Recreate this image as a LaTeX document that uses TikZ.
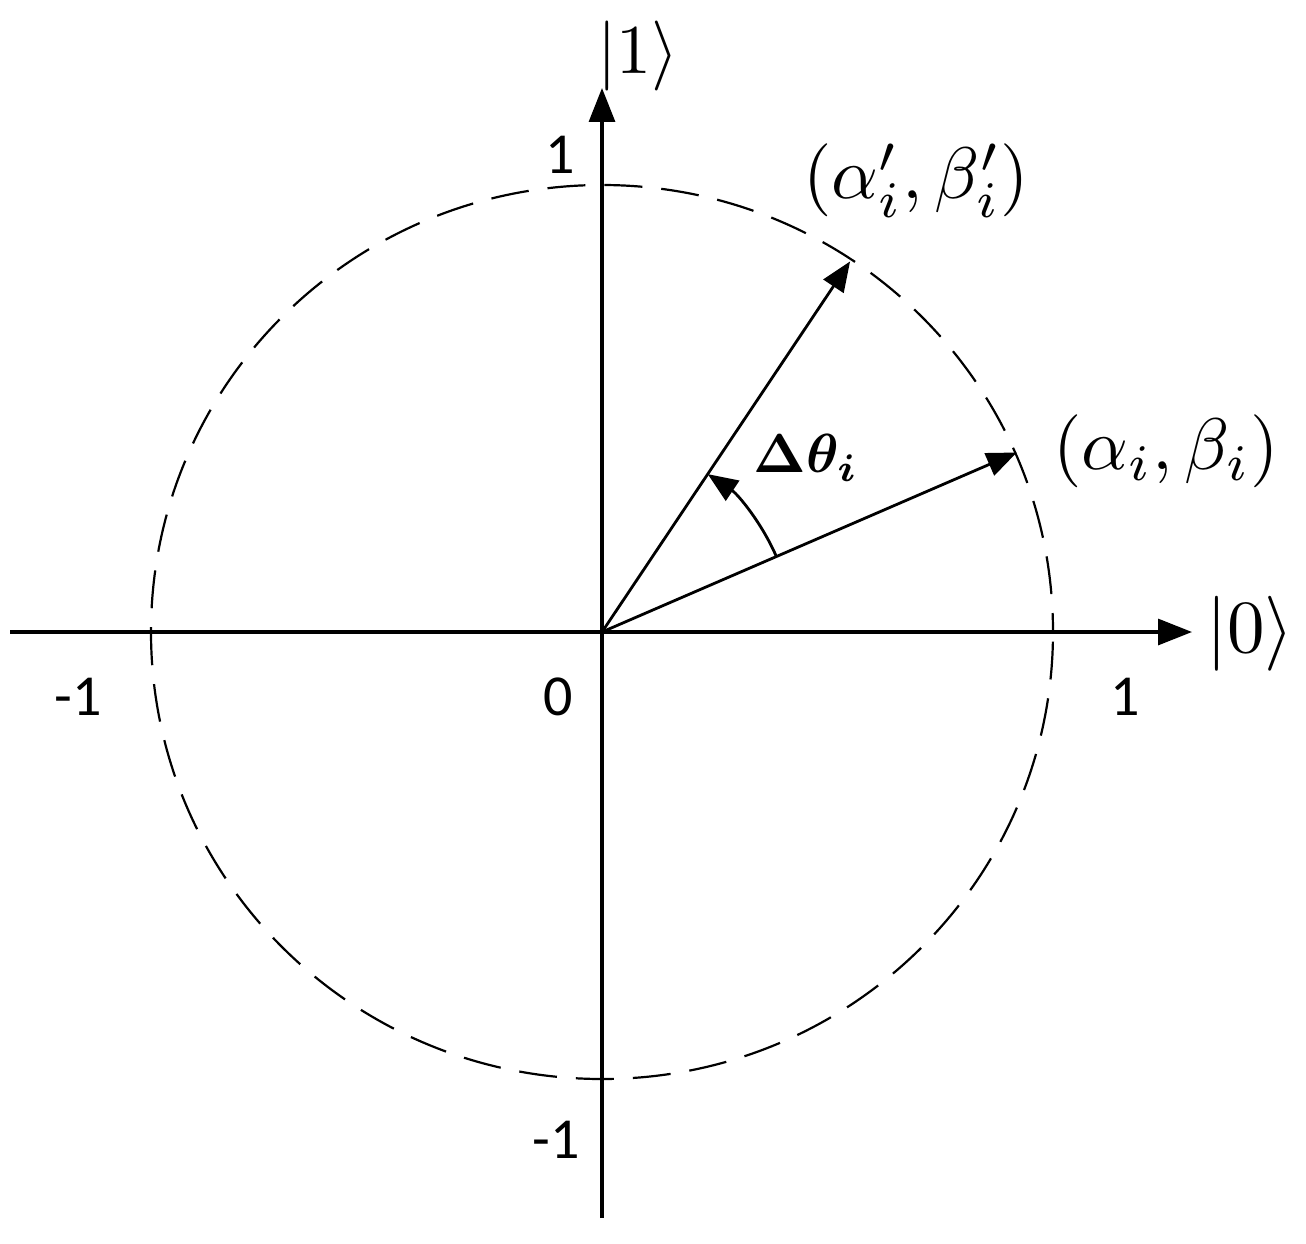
\documentclass[tikz,border=0pt]{standalone}
\usepackage{fontspec}
\usepackage{amsmath,bm}
\newfontfamily\numfont{Carlito}
\usetikzlibrary{arrows.meta,calc}
\tikzset{
  axis/.style={line width=3.2pt,-{Triangle[length=34pt,width=26pt]}},
  vec/.style={line width=2.8pt,-{Triangle[length=30pt,width=24pt]}},
  num/.style={font=\numfont\fontsize{58}{68}\selectfont,inner sep=0pt},
  mlab/.style={inner sep=0pt,scale=#1},
}
\begin{document}
\begin{tikzpicture}[x=1pt,y=-1pt]
\useasboundingbox (0,0) rectangle (1306,1244);
\coordinate (O) at (602,632);
\coordinate (xl) at (10,632);
\coordinate (xr) at (1192,632);
\coordinate (yb) at (602,1218);
\coordinate (yt) at (602,88);
\draw[line width=2.2pt,dash pattern=on 38pt off 19pt,dash phase=19pt] (O) ellipse [x radius=451pt,y radius=447pt];
\draw[axis] (xl) -- (xr);
\draw[axis] (yb) -- (yt);
\coordinate (A) at ($(O)+(23.4:452pt)$);
\coordinate (B) at ($(O)+(56.2:446pt)$);
\draw[vec] (O) -- (A);
\draw[vec] (O) -- (B);
\coordinate (a1) at ($(O)+(23.4:190pt)$);
\draw[vec] (a1) arc[start angle=23.4,end angle=56.2,radius=190pt];
\node[mlab=7] (k1) at (638,56) {$|1\rangle$};
\node[mlab=7.5] (k0) at (1250,634) {$|0\rangle$};
\node[mlab=7.3] (lb) at (916,181) {$(\alpha_i',\beta_i')$};
\node[mlab=7.3] (la) at (1166,451) {$(\alpha_i,\beta_i)$};
\node[mlab=5.5] (lt) at (806,458) {$\bm{\Delta\theta_i}$};
\node[num] (n1) at (560,155) {1};
\node[num] (m1) at (78,697) {-1};
\node[num] (z0) at (558,697) {0};
\node[num] (p1) at (1125,697) {1};
\node[num] (m2) at (556,1140) {-1};
\end{tikzpicture}
\end{document}
